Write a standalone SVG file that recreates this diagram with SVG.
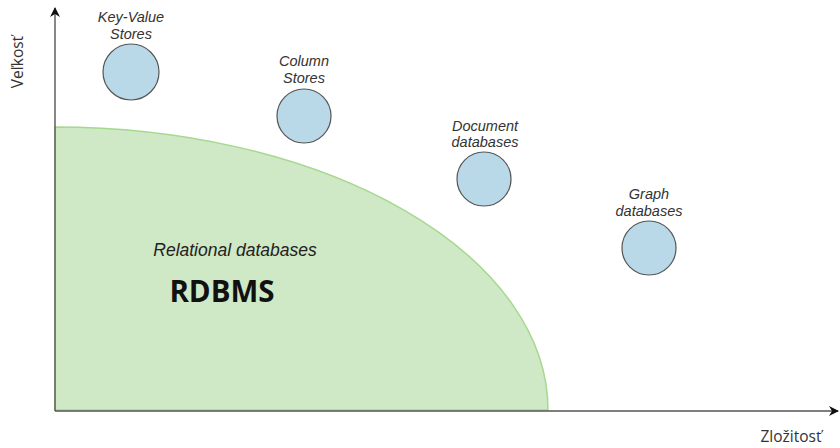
<svg xmlns="http://www.w3.org/2000/svg" width="840" height="448" viewBox="0 0 840 448">
  <style>
    .lbl { font-family: "Liberation Sans", Arial, sans-serif; font-style: italic; font-size: 14.5px; fill: #333; text-anchor: middle; }
    .node { fill: #b9d9e8; stroke: #555; stroke-width: 1.2; }
    .axis { stroke: #555; stroke-width: 1.4; fill: none; }
    .axtxt { font-family: "Open Sans", "Liberation Sans", sans-serif; font-size: 15.5px; fill: #333; }
  </style>
  <defs>
    <marker id="arr" viewBox="0 0 10 10" refX="9" refY="5" markerWidth="10" markerHeight="10" markerUnits="userSpaceOnUse" orient="auto">
      <path d="M0,0 L10,5 L0,10 L3,5 Z" fill="#111"/>
    </marker>
  </defs>
  <rect width="840" height="448" fill="#fff"/>

  <!-- relational region -->
  <g id="rdbms">
    <path d="M55,410 L55,127 A493,283 0 0 1 548,410 Z" fill="#cfe8c6" stroke="#a6d88e" stroke-width="1.5"/>
    <text x="235" y="256" font-family="Liberation Sans, Arial, sans-serif" font-style="italic" font-size="17.5" fill="#222" text-anchor="middle">Relational databases</text>
    <text x="222" y="302" font-family="Open Sans, Liberation Sans, sans-serif" font-weight="bold" font-size="29.5" fill="#111" text-anchor="middle">RDBMS</text>
  </g>

  <!-- axes -->
  <g id="connectors">
    <line class="axis" x1="55" y1="411" x2="55" y2="8" marker-end="url(#arr)"/>
    <line class="axis" x1="55" y1="411" x2="838" y2="411" marker-end="url(#arr)"/>
  </g>
  <text class="axtxt" transform="translate(23,62) rotate(-90)" text-anchor="middle">Veľkosť</text>
  <text class="axtxt" x="791" y="442" text-anchor="middle">Zložitosť</text>

  <g id="kv">
    <circle class="node" cx="131" cy="72" r="28"/>
    <text class="lbl" x="131" y="22">Key-Value</text>
    <text class="lbl" x="131" y="39">Stores</text>
  </g>
  <g id="column">
    <circle class="node" cx="304" cy="116" r="27"/>
    <text class="lbl" x="304" y="66">Column</text>
    <text class="lbl" x="304" y="83">Stores</text>
  </g>
  <g id="document">
    <circle class="node" cx="484" cy="179" r="27"/>
    <text class="lbl" x="485" y="131">Document</text>
    <text class="lbl" x="485" y="147">databases</text>
  </g>
  <g id="graph">
    <circle class="node" cx="649" cy="248" r="27"/>
    <text class="lbl" x="649" y="199">Graph</text>
    <text class="lbl" x="649" y="216">databases</text>
  </g>
</svg>
